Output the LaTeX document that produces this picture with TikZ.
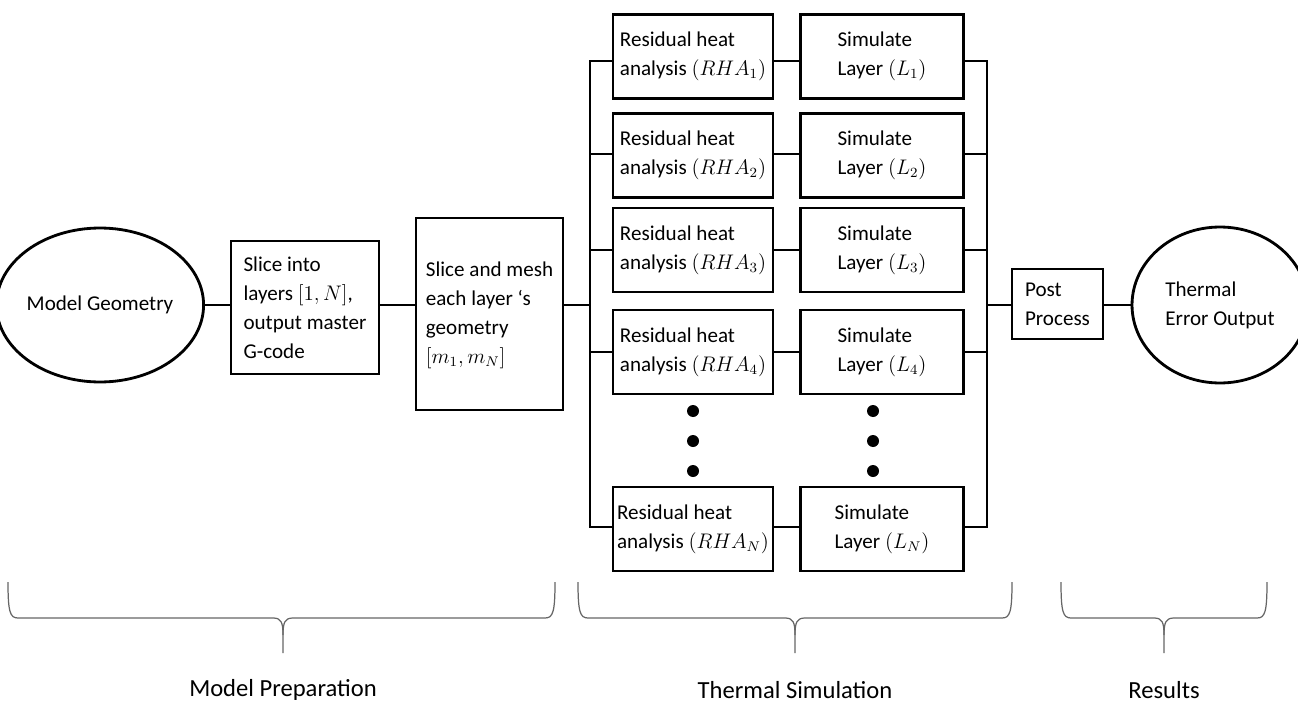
\documentclass[tikz,border=0pt]{standalone}
\usepackage{amsmath}
\usepackage{fontspec}
\setmainfont{Carlito}
\usetikzlibrary{calc}
\usetikzlibrary{shapes.geometric}

\begin{document}
\begin{tikzpicture}[x=0.02cm,y=-0.02cm]
	\tikzset{blocco/.style={draw,line width=1.6pt,rectangle,align=left,inner sep=0pt,font=\fontsize{12}{16.5}\selectfont}}
	\tikzset{nodo/.style={draw,line width=1.6pt,ellipse,align=left,inner sep=0pt,font=\fontsize{12}{16.5}\selectfont}}
	\tikzset{linea/.style={line width=1.6pt}}
	\tikzset{graffa/.style={draw=gray!80!black,line width=0.7pt}}
	\pgfmathsetmacro{\xbusA}{590};
	\pgfmathsetmacro{\xbusB}{987};
	\pgfmathsetmacro{\yasse}{305};
	\useasboundingbox (0,0) rectangle (1298,703);

	% model preparation
	\node[nodo,minimum width=3.52cm,minimum height=3.08cm] (geo) at (100,\yasse) {Model Geometry};
	\node[blocco,minimum width=2.96cm,minimum height=2.66cm] (slice) at (305,307.5) {Slice into\\ layers $[1,N]$,\\ output master\\ G-code};
	\node[blocco,minimum width=2.94cm,minimum height=3.84cm] (mesh) at (489.5,314) {};
	\node[align=left,inner sep=0pt,font=\fontsize{12}{16.5}\selectfont] (meshtxt) at (489.5,315) {Slice and mesh\\ each layer ‘s\\ geometry\\ $[m_1,m_N]$};
	\coordinate (sl) at (geo.east |- 0,\yasse);
	\draw[linea] (geo.east) -- (geo.east -| slice.west);
	\draw[linea] (slice.east |- sl) -- (mesh.west |- sl);

	% thermal simulation
	\foreach \i/\yy/\yl/\lab in {1/56.5/61/1,2/155.5/154/2,3/250/250/3,4/352/352/4,5/529/527/N} {
		\node[blocco,minimum width=3.2cm,minimum height=1.68cm] (rha\i) at (693,\yy) {Residual heat\\ analysis $(RHA_{\lab})$};
		\node[blocco,minimum width=3.26cm,minimum height=1.68cm] (sim\i) at (882,\yy) {Simulate\\ Layer $(L_{\lab})$};
		\coordinate (ba\i) at (\xbusA,\yl);
		\coordinate (bb\i) at (\xbusB,\yl);
		\draw[linea] (rha\i.east |- ba\i) -- (sim\i.west |- ba\i);
	}
	\draw[linea] (rha1.west |- ba1) -- (ba1) -- (ba5) -- (rha5.west |- ba5);
	\draw[linea] (sim1.east |- bb1) -- (bb1) -- (bb5) -- (sim5.east |- bb5);
	\foreach \i in {2,3,4} {
		\draw[linea] (ba\i) -- (rha\i.west |- ba\i);
		\draw[linea] (sim\i.east |- bb\i) -- (bb\i);
	}
	\coordinate (bamid) at (\xbusA,\yasse);
	\coordinate (bbmid) at (\xbusB,\yasse);
	\draw[linea] (mesh.east |- bamid) -- (bamid);
	\foreach \yy in {411,441,471} {
		\fill (693,\yy) circle (0.12cm);
		\fill (873,\yy) circle (0.12cm);
	}

	% results
	\node[blocco,minimum width=1.82cm,minimum height=1.4cm] (post) at (1057.5,304) {Post\\ Process};
	\node[nodo,minimum width=3.52cm,minimum height=3.12cm] (out) at (1220,\yasse) {Thermal\\ Error Output};
	\draw[linea] (bbmid) -- (post.west |- bbmid);
	\draw[linea] (post.east |- bbmid) -- (out.west);

	% phases
	\foreach \xa/\xt/\xb/\testo [count=\k] in {8/283/555/Model Preparation,578/795/1012/Thermal Simulation,1061/1164/1267/Results} {
		\draw[graffa] (\xa,582) .. controls (\xa,612) and (\xa+2,618) .. (\xa+10,618) -- (\xt-10,618) .. controls (\xt-2,618) and (\xt,622) .. (\xt,635) -- (\xt,653);
		\draw[graffa] (\xt,635) .. controls (\xt,622) and (\xt+2,618) .. (\xt+10,618) -- (\xb-10,618) .. controls (\xb-2,618) and (\xb,612) .. (\xb,582);
		\node[font=\fontsize{14}{16}\selectfont] (fase\k) at (\xt,690) {\testo};
	}
\end{tikzpicture}
\end{document}
